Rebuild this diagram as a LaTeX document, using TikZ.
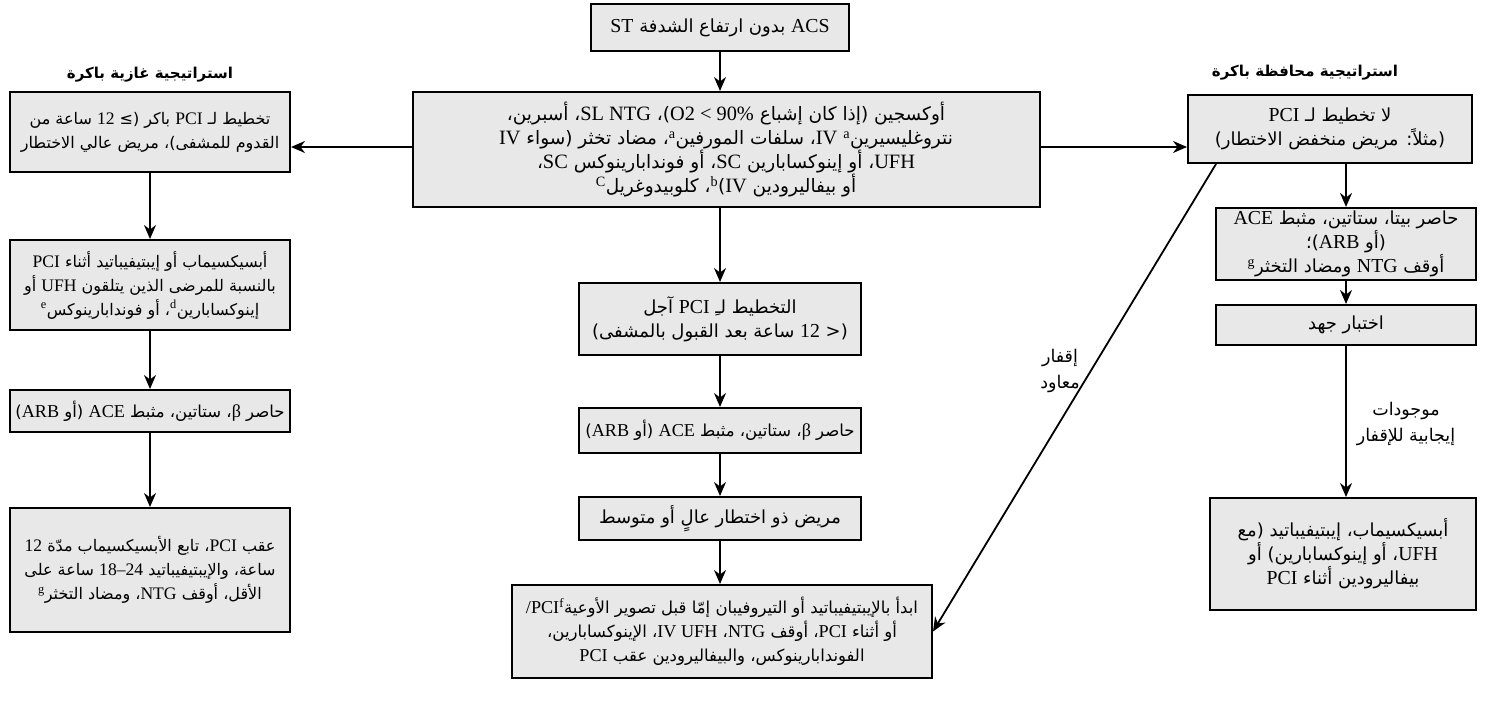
\documentclass[tikz,border=0pt]{standalone}
\usepackage{fontspec}
\setmainfont{Liberation Serif}
\newfontfamily\arfont[Script=Arabic]{DejaVu Sans}
\newfontfamily\ltfont[Scale=1.1]{Liberation Serif}
\TeXXeTstate=1
\usetikzlibrary{arrows.meta,calc}
\definecolor{boxgray}{RGB}{232,232,232}
\newcommand\la[1]{{\ltfont #1}}
\newcommand\sps[1]{{\ltfont\textsuperscript{#1}}}
\newcommand\rl[1]{\beginR #1\endR}
\newcommand\lr[1]{\beginL{\ltfont #1}\endL{}}
\begin{document}
\begin{tikzpicture}[x=1pt,y=-1pt,
  box/.style={draw=black,line width=2pt,fill=boxgray,align=center,inner sep=3pt,
    font=\arfont\fontsize{18}{24}\selectfont},
  fs/.style={font=\arfont\fontsize{#1}{24}\selectfont},
  ttl/.style={font=\arfont\bfseries\fontsize{15}{20}\selectfont,align=center},
  lbl/.style={font=\arfont\fontsize{17.5}{26}\selectfont,align=center},
  arr/.style={line width=1.8pt,-{Stealth[length=14pt,width=12pt]}}]
\useasboundingbox (0,0) rectangle (1490,706);

% centre column
\node[box,minimum width=258pt,minimum height=47pt] (top) at (720,28) {\rl{\la{ACS} بدون ارتفاع الشدفة \la{ST}}};
\node[box,fs=18.5,minimum width=627pt,minimum height=115pt] (c1) at (726,149.5) {%
\rl{أوكسجين (إذا كان إشباع \lr{O2 < 90\%})، \lr{SL NTG}، أسبرين،}\\
\rl{نتروغليسيرين\sps{a} \la{IV}، سلفات المورفين\sps{a}، مضاد تخثر (سواء \la{IV}}\\
\rl{\la{UFH}، أو إينوكسابارين \la{SC}، أو فوندابارينوكس \la{SC}،}\\
\rl{أو بيفاليرودين \la{IV})\sps{b}، كلوبيدوغريل\sps{C}}};
\node[box,minimum width=282pt,minimum height=72pt] (c2) at (720,319) {%
\rl{التخطيط لـِ \la{PCI} آجل}\\
\rl{(< \la{12} ساعة بعد القبول بالمشفى)}};
\node[box,fs=16.5,minimum width=282pt,minimum height=45pt] (c3) at (720,430.5) {%
\rl{حاصر \la{β}، ستاتين، مثبط \la{ACE} (أو \la{ARB})}};
\node[box,minimum width=282pt,minimum height=43pt] (c4) at (720,518.5) {%
\rl{مريض ذو اختطار عالٍ أو متوسط}};
\node[box,fs=16.5,minimum width=420pt,minimum height=93pt] (c5) at (722,631.5) {%
\rl{ابدأ بالإيبتيفيباتيد أو التيروفيبان إمّا قبل تصوير الأوعية\sps{f}\la{/PCI}}\\
\rl{أو أثناء \la{PCI}، أوقف \la{NTG}، \lr{IV UFH}، الإينوكسابارين،}\\
\rl{الفوندابارينوكس، والبيفاليرودين عقب \la{PCI}}};

% left column
\node[ttl] (tl) at (150,75) {\rl{استراتيجية غازية باكرة}};
\node[box,fs=16,minimum width=280pt,minimum height=80pt] (L1) at (150,132) {%
\rl{تخطيط لـ \la{PCI} باكر (≥ \la{12} ساعة من}\\
\rl{القدوم للمشفى)، مريض عالي الاختطار}};
\node[box,fs=16,minimum width=280pt,minimum height=90pt] (L2) at (150,285) {%
\rl{أبسيكسيماب أو إيبتيفيباتيد أثناء \la{PCI}}\\
\rl{بالنسبة للمرضى الذين يتلقون \la{UFH} أو}\\
\rl{إينوكسابارين\sps{d}، أو فوندابارينوكس\sps{e}}};
\node[box,fs=16.5,minimum width=280pt,minimum height=42pt] (L3) at (150,411) {%
\rl{حاصر \la{β}، ستاتين، مثبط \la{ACE} (أو \la{ARB})}};
\node[box,fs=16,minimum width=280pt,minimum height=124pt] (L4) at (150,570) {%
\rl{عقب \la{PCI}، تابع الأبسيكسيماب مدّة \la{12}}\\
\rl{ساعة، والإيبتيفيباتيد \la{18–24} ساعة على}\\
\rl{الأقل، أوقف \la{NTG}، ومضاد التخثر\sps{g}}};

% right column
\node[ttl] (tr) at (1305,73) {\rl{استراتيجية محافظة باكرة}};
\node[box,minimum width=284pt,minimum height=68pt] (R1) at (1330,129) {%
\rl{لا تخطيط لـ \la{PCI}}\\
\rl{(مثلاً: مريض منخفض الاختطار)}};
\node[box,minimum width=260pt,minimum height=68pt] (R2) at (1346,244) {%
\rl{حاصر بيتا، ستاتين، مثبط \la{ACE}}\\
\rl{(أو \la{ARB})؛}\\
\rl{أوقف \la{NTG} ومضاد التخثر\sps{g}}};
\node[box,minimum width=260pt,minimum height=40pt] (R3) at (1346,325) {%
\rl{اختبار جهد}};
\node[box,minimum width=266pt,minimum height=112pt] (R4) at (1343,554) {%
\rl{أبسيكسيماب، إيبتيفيباتيد (مع}\\
\rl{\la{UFH}، أو إينوكسابارين) أو}\\
\rl{بيفاليرودين أثناء \la{PCI}}};

% labels
\node[lbl] (pos) at (1406,424) {\rl{موجودات}\\ \rl{إيجابية للإقفار}};
\node[lbl] (isc) at (1060,371) {\rl{إقفار}\\ \rl{معاود}};

% connectors
\coordinate (hrow) at (0,147);
\draw[arr] (top.south) -- (top.south |- c1.north);
\draw[arr] (c1.west |- hrow) -- (L1.east |- hrow);
\draw[arr] (c1.east |- hrow) -- (R1.west |- hrow);
\draw[arr] (c2.north |- c1.south) -- (c2.north);
\draw[arr] (c2.south) -- (c3.north);
\draw[arr] (c3.south) -- (c4.north);
\draw[arr] (c4.south) -- (c4.south |- c5.north);
\draw[arr] (L1.south) -- (L2.north);
\draw[arr] (L2.south) -- (L3.north);
\draw[arr] (L3.south) -- (L4.north);
\draw[arr] (R2.north |- R1.south) -- (R2.north);
\draw[arr] (R2.south) -- (R3.north);
\draw[arr] (R3.south) -- (R3.south |- R4.north);
\draw[arr] ($(R1.south west)+(29,0)$) -- (c5.east);
\end{tikzpicture}
\end{document}
